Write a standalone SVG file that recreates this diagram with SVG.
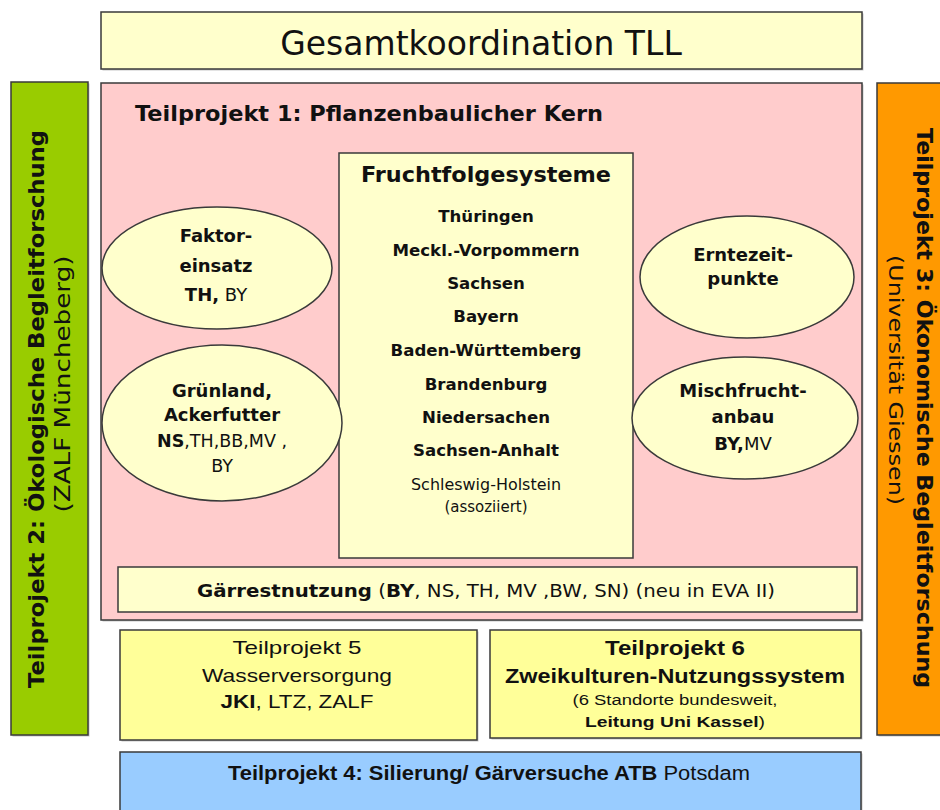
<svg xmlns="http://www.w3.org/2000/svg" width="940" height="810" viewBox="0 0 940 810">
<defs>
<style>
.box{stroke:#3a3a3a;stroke-width:1.5}
.sh{fill:#9a9a9a;opacity:0.55}
.t{font-family:"DejaVu Sans","Noto Sans",sans-serif;fill:#111}
.a{font-family:"Liberation Sans",Arial,sans-serif;fill:#111}
.b{font-weight:bold}
.n{font-weight:normal}
.c{text-anchor:middle}
</style>
</defs>
<rect width="940" height="810" fill="#ffffff"/>

<g id="gesamtkoordination">
<rect class="sh" x="102.5" y="13.5" width="761" height="57"/>
<rect class="box" x="101" y="12" width="761" height="57" fill="#FFFFCC"/>
<text class="t c" x="481" y="55" font-size="33">Gesamtkoordination TLL</text>
</g>

<g id="tp2">
<rect class="sh" x="12.5" y="83.5" width="77" height="653"/>
<rect class="box" x="11" y="82" width="77" height="653" fill="#99CC00"/>
<text class="t c b" transform="translate(44,409) rotate(-90)" font-size="21" textLength="558" lengthAdjust="spacingAndGlyphs">Teilprojekt 2: Ökologische Begleitforschung</text>
<text class="t c" transform="translate(70,384) rotate(-90)" font-size="21" fill="#222" textLength="257" lengthAdjust="spacingAndGlyphs">(ZALF Müncheberg)</text>
</g>

<g id="tp3">
<rect class="sh" x="878.5" y="84.5" width="70" height="652"/>
<rect class="box" x="877" y="83" width="70" height="652" fill="#FF9900"/>
<text class="t c b" transform="translate(917,408) rotate(90)" font-size="21" textLength="560" lengthAdjust="spacingAndGlyphs">Teilprojekt 3: Ökonomische Begleitforschung</text>
<text class="t c" transform="translate(889,380) rotate(90)" font-size="20" fill="#222" textLength="250" lengthAdjust="spacingAndGlyphs">(Universität Giessen)</text>
</g>

<g id="tp1">
<rect class="sh" x="102.5" y="84.5" width="761" height="537"/>
<rect class="box" x="101" y="83" width="761" height="537" fill="#FFCCCC"/>
<text class="t b" x="135" y="121" font-size="21.5" textLength="468" lengthAdjust="spacingAndGlyphs">Teilprojekt 1: Pflanzenbaulicher Kern</text>
</g>

<g id="fruchtfolgesysteme">
<rect class="box" x="339" y="153" width="294" height="405" fill="#FFFFCC"/>
<text class="t c b" x="486" y="182" font-size="22" textLength="250" lengthAdjust="spacingAndGlyphs">Fruchtfolgesysteme</text>
<g class="t c b" font-size="16.6">
<text x="486" y="222">Thüringen</text>
<text x="486" y="256">Meckl.-Vorpommern</text>
<text x="486" y="289">Sachsen</text>
<text x="486" y="322">Bayern</text>
<text x="486" y="356">Baden-Württemberg</text>
<text x="486" y="390">Brandenburg</text>
<text x="486" y="423">Niedersachen</text>
<text x="486" y="456">Sachsen-Anhalt</text>
</g>
<text class="t c" x="486" y="490" font-size="15" fill="#222" textLength="150" lengthAdjust="spacingAndGlyphs">Schleswig-Holstein</text>
<text class="t c" x="486" y="512" font-size="15" fill="#222">(assoziiert)</text>
</g>

<g id="faktoreinsatz">
<ellipse class="box" cx="217" cy="268" rx="115" ry="61" fill="#FFFFCC"/>
<text class="t c b" x="216" y="242" font-size="18">Faktor-</text>
<text class="t c b" x="216" y="272" font-size="18">einsatz</text>
<text class="t c" x="216" y="301" font-size="18"><tspan class="b">TH,</tspan> BY</text>
</g>

<g id="gruenland">
<ellipse class="box" cx="222" cy="423" rx="120" ry="78" fill="#FFFFCC"/>
<text class="t c b" x="222" y="397" font-size="18">Grünland,</text>
<text class="t c b" x="222" y="421" font-size="18">Ackerfutter</text>
<text class="t c" x="222" y="447" font-size="17.5"><tspan class="b">NS</tspan>,TH,BB,MV ,</text>
<text class="t c" x="222" y="472" font-size="17.5">BY</text>
</g>

<g id="erntezeitpunkte">
<ellipse class="box" cx="747" cy="277" rx="107" ry="61" fill="#FFFFCC"/>
<text class="t c b" x="743" y="261" font-size="18">Erntezeit-</text>
<text class="t c b" x="743" y="285" font-size="18">punkte</text>
</g>

<g id="mischfruchtanbau">
<ellipse class="box" cx="745" cy="418" rx="113" ry="61" fill="#FFFFCC"/>
<text class="t c b" x="743" y="397" font-size="18">Mischfrucht-</text>
<text class="t c b" x="743" y="423" font-size="18">anbau</text>
<text class="t c" x="743" y="450" font-size="18"><tspan class="b">BY,</tspan>MV</text>
</g>

<g id="gaerrestnutzung">
<rect class="box" x="118" y="567" width="739" height="45" fill="#FFFFCC"/>
<text class="t c" x="486" y="597" font-size="17" textLength="578" lengthAdjust="spacingAndGlyphs"><tspan class="b">Gärrestnutzung</tspan> (<tspan class="b">BY</tspan>, NS, TH, MV ,BW, SN) (neu in EVA II)</text>
</g>

<g id="tp5">
<rect class="sh" x="121.5" y="631.5" width="357" height="110"/>
<rect class="box" x="120" y="630" width="357" height="110" fill="#FFFF99"/>
<text class="a c" x="297" y="654" font-size="19" textLength="129" lengthAdjust="spacingAndGlyphs">Teilprojekt 5</text>
<text class="a c" x="297" y="682" font-size="19" textLength="190" lengthAdjust="spacingAndGlyphs">Wasserversorgung</text>
<text class="a c" x="297" y="708" font-size="19" textLength="153" lengthAdjust="spacingAndGlyphs"><tspan class="b">JKI</tspan>, LTZ, ZALF</text>
</g>

<g id="tp6">
<rect class="sh" x="491.5" y="631.5" width="371" height="108"/>
<rect class="box" x="490" y="630" width="371" height="108" fill="#FFFF99"/>
<text class="a c b" x="675" y="655" font-size="20" textLength="140" lengthAdjust="spacingAndGlyphs">Teilprojekt 6</text>
<text class="a c b" x="675" y="683" font-size="20" textLength="340" lengthAdjust="spacingAndGlyphs">Zweikulturen-Nutzungssystem</text>
<text class="a c" x="675" y="705" font-size="14" textLength="205" lengthAdjust="spacingAndGlyphs">(6 Standorte bundesweit,</text>
<text class="a c" x="675" y="727" font-size="15" textLength="180" lengthAdjust="spacingAndGlyphs"><tspan class="b">Leitung Uni Kassel</tspan>)</text>
</g>

<g id="tp4">
<rect class="sh" x="121.5" y="753.5" width="741" height="70"/>
<rect class="box" x="120" y="752" width="741" height="70" fill="#99CCFF"/>
<text class="a c" x="489" y="780" font-size="20" textLength="522" lengthAdjust="spacingAndGlyphs"><tspan class="b">Teilprojekt 4: Silierung/ Gärversuche ATB</tspan> Potsdam</text>
</g>

<g id="connectors"></g>
</svg>
